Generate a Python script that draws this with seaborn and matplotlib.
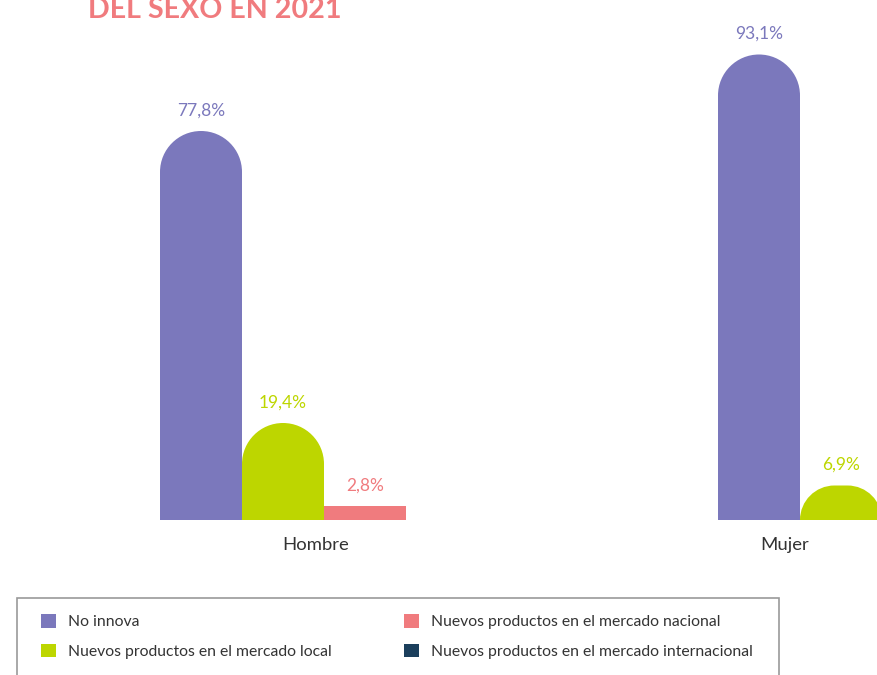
import numpy as np
import pandas as pd
import seaborn as sns
import matplotlib
matplotlib.use("Agg")
import matplotlib.pyplot as plt
from matplotlib.path import Path
from matplotlib.patches import PathPatch, Patch, Rectangle

# ---- data ----
sexos = ["Hombre", "Mujer"]
tipos = ["No innova",
         "Nuevos productos en el mercado local",
         "Nuevos productos en el mercado nacional",
         "Nuevos productos en el mercado internacional"]
hombre_vals = [77.8, 19.4, 2.8, 0.0]
mujer_vals = [93.1, 6.9, 0.0, 0.0]
colores = ["#7B78BC", "#BDD600", "#F07B7E", "#1B3F5C"]
titulo = "DEL SEXO EN 2021"

df = pd.DataFrame({
    "sexo": [s for s in sexos for _ in tipos],
    "tipo": tipos * 2,
    "valor": hombre_vals + mujer_vals,
})

sns.set_theme(style="white")
plt.rcParams["font.family"] = ["Lato", "DejaVu Sans"]

W, H = 877, 675
fig = plt.figure(figsize=(W / 100, H / 100), dpi=100)
fig.patch.set_facecolor("white")

base_px = 520   # from top
top_px = 40
ax = fig.add_axes([0, (H - base_px) / H, 1, (base_px - top_px) / H])
ppu_y = 5.0
ppu_x = 558.0
x0_px = 324.0

sns.barplot(data=df, x="sexo", y="valor", hue="tipo", order=sexos,
            hue_order=tipos, palette=colores, width=4 * 82 / ppu_x,
            ax=ax, legend=False, saturation=1)
ax.set_xlim(-x0_px / ppu_x, (W - x0_px) / ppu_x)
ax.set_ylim(0, (base_px - top_px) / ppu_y)

for s in ax.spines.values():
    s.set_visible(False)
ax.set_yticks([])
ax.set_ylabel("")
ax.set_xlabel("")
ax.set_xticks([(316 - x0_px) / ppu_x, (785 - x0_px) / ppu_x], sexos)
ax.tick_params(axis="x", length=0, pad=12, labelsize=13.3, labelcolor="#333333")
ax.grid(False)

inv = ax.transData.inverted()
k = 0.5523
bars = list(ax.patches)
for p in bars:
    x, y = p.get_x(), p.get_y()
    w, h = p.get_width(), p.get_height()
    fc = p.get_facecolor()
    p.remove()
    if h <= 0:
        continue
    (dx0, dy0) = ax.transData.transform((x, y))
    (dx1, dy1) = ax.transData.transform((x + w, y + h))
    wp, hp = dx1 - dx0, dy1 - dy0
    r = min(wp / 2, hp) if h >= 5 else 0.0
    if r > 0:
        verts = [(dx0, dy0), (dx0, dy1 - r),
                 (dx0, dy1 - r + k * r), (dx0 + r - k * r, dy1), (dx0 + r, dy1),
                 (dx1 - r, dy1),
                 (dx1 - r + k * r, dy1), (dx1, dy1 - r + k * r), (dx1, dy1 - r),
                 (dx1, dy0), (dx0, dy0)]
        codes = [Path.MOVETO, Path.LINETO,
                 Path.CURVE4, Path.CURVE4, Path.CURVE4,
                 Path.LINETO,
                 Path.CURVE4, Path.CURVE4, Path.CURVE4,
                 Path.LINETO, Path.CLOSEPOLY]
    else:
        verts = [(dx0, dy0), (dx0, dy1), (dx1, dy1), (dx1, dy0), (dx0, dy0)]
        codes = [Path.MOVETO, Path.LINETO, Path.LINETO, Path.LINETO, Path.CLOSEPOLY]
    dverts = inv.transform(np.array(verts))
    ax.add_patch(PathPatch(Path(dverts, codes), facecolor=fc, edgecolor="none",
                           clip_on=False))
    label = f"{h:.1f}".replace(".", ",") + "%"
    ax.annotate(label, (x + w / 2, y + h), xytext=(0, 9),
                textcoords="offset points", ha="center", va="bottom",
                fontsize=12.5, color=fc, annotation_clip=False)

fig.text(88 / W, 1 - 18 / H, titulo, ha="left", va="baseline",
         fontsize=20.6, fontweight="bold", color="#F07B7E")

# legend
handles = [Patch(facecolor=c, edgecolor="none") for c in colores]
fs = 11.3
fpx = fs * 100 / 72
leg = fig.legend(handles, tipos,
                 ncol=2, loc="upper left",
                 bbox_to_anchor=(41 / W, 1 - 614 / H),
                 frameon=False, fontsize=fs,
                 handlelength=15 / fpx, handleheight=15 / fpx,
                 handletextpad=12 / fpx, columnspacing=72 / fpx,
                 labelspacing=0.92, borderaxespad=0, borderpad=0)
for t in leg.get_texts():
    t.set_color("#333333")
fig.add_artist(Rectangle((17 / W, -0.05), 762 / W, (H - 598) / H + 0.05,
                         transform=fig.transFigure, facecolor="none",
                         edgecolor="#9a9a9a", linewidth=1.2))

fig.savefig("out.png", dpi=100, facecolor="white")
